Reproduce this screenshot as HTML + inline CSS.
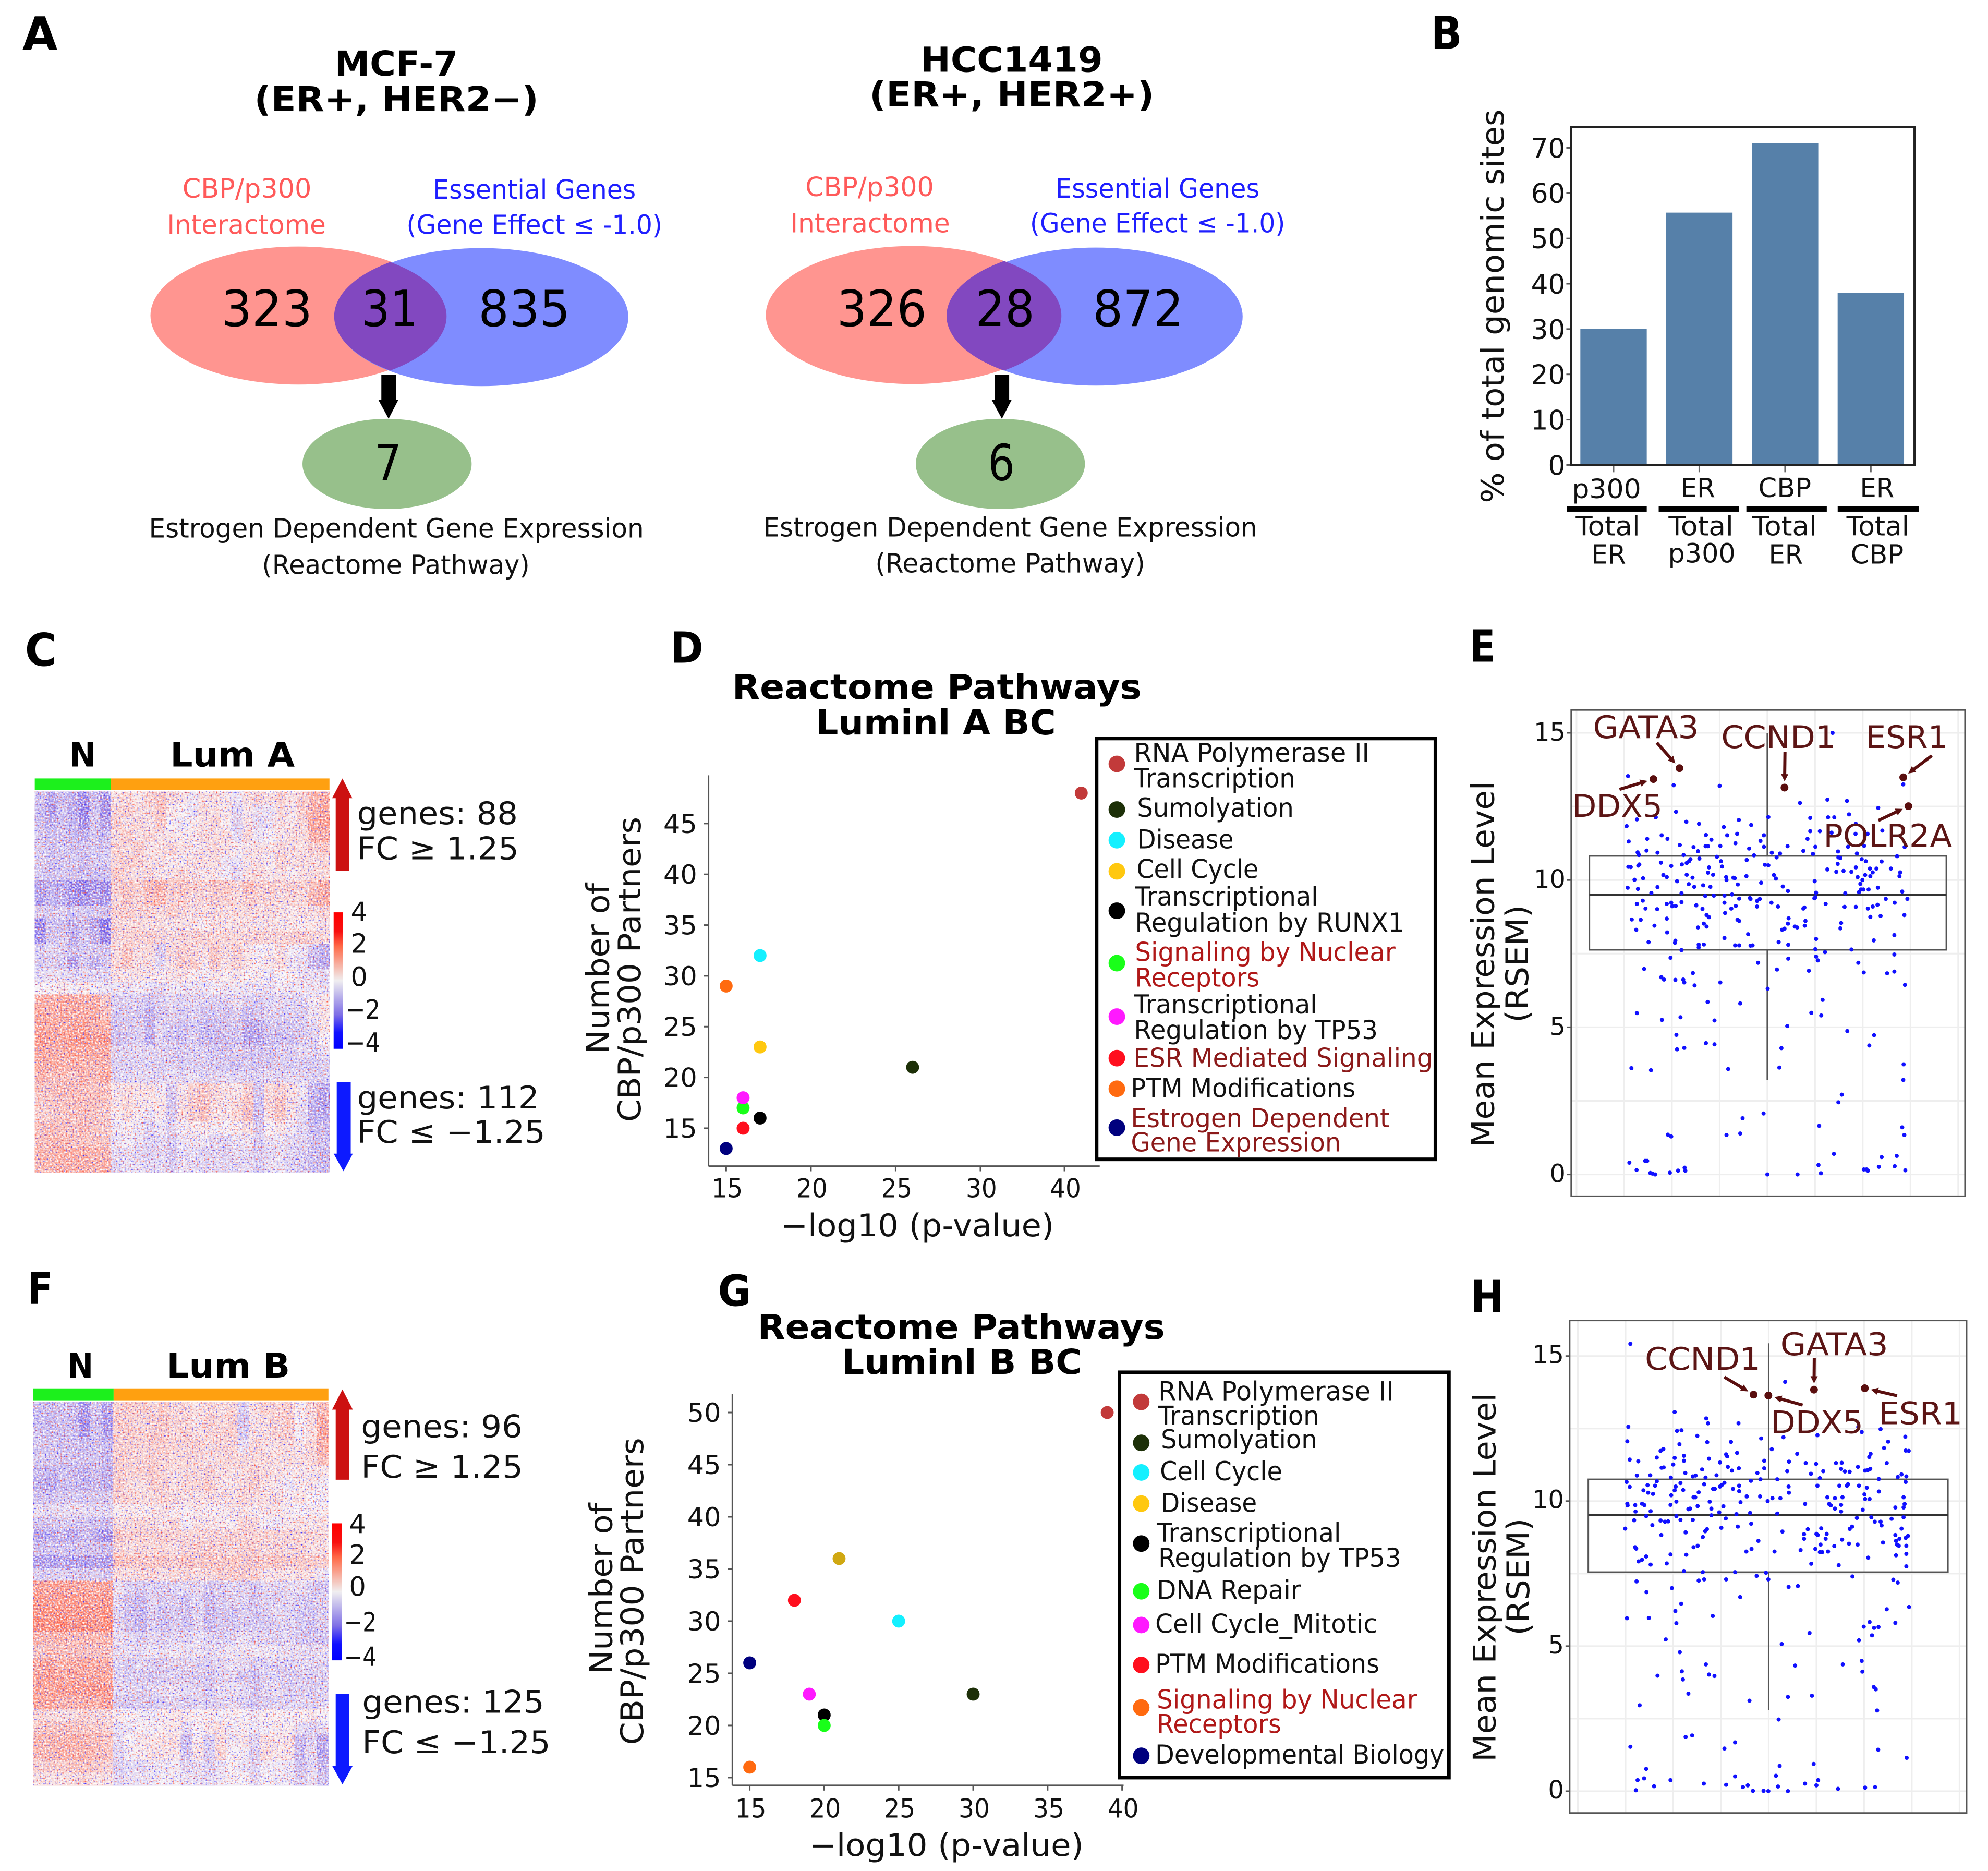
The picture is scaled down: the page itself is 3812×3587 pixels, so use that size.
<!DOCTYPE html>
<html lang="en">
<head>
<meta charset="utf-8">
<title>CBP/p300 interactome figure</title>
<style>
html,body{margin:0;padding:0;background:#fff;}
svg{display:block;font-family:"DejaVu Sans","Liberation Sans",sans-serif;}
text{fill:#111;}
.b{font-weight:bold;fill:#000;}
.leg{font-size:50px;}
.red{fill:#b01818;}
.dred{fill:#8c1a1a;}
.cbp{fill:#ff5a5a;font-size:51px;}
.ess{fill:#1f1fff;font-size:51px;}
.num{font-size:96px;fill:#000;}
.blk{font-size:51px;}
.axt{font-size:60px;}
.tck{font-size:51px;}
</style>
</head>
<body>
<svg id="fig" width="3812" height="3587" viewBox="0 0 3812 3587">
<defs>
<linearGradient id="cbarGrad" x1="0" y1="0" x2="0" y2="1">
<stop offset="0" stop-color="#ff0000"/><stop offset="0.14" stop-color="#f81010"/><stop offset="0.25" stop-color="#ff6a48"/><stop offset="0.5" stop-color="#f0eef0"/><stop offset="0.75" stop-color="#7e6ee6"/><stop offset="0.88" stop-color="#1010ff"/><stop offset="1" stop-color="#0000ff"/>
</linearGradient>
<filter id="grainBlue" x="0" y="0" width="100%" height="100%" color-interpolation-filters="sRGB">
<feTurbulence type="fractalNoise" baseFrequency="0.3" numOctaves="1" seed="3"/>
<feColorMatrix values="0 0 0 0 0.2  0 0 0 0 0.15  0 0 0 0 1  4 0 0 0 -2.35"/>
</filter>
<filter id="grainRed" x="0" y="0" width="100%" height="100%" color-interpolation-filters="sRGB">
<feTurbulence type="fractalNoise" baseFrequency="0.3" numOctaves="1" seed="11"/>
<feColorMatrix values="0 0 0 0 1  0 0 0 0 0.3  0 0 0 0 0.2  4 0 0 0 -2.35"/>
</filter>
<filter id="grainWhite" x="0" y="0" width="100%" height="100%" color-interpolation-filters="sRGB">
<feTurbulence type="fractalNoise" baseFrequency="0.3" numOctaves="1" seed="23"/>
<feColorMatrix values="0 0 0 0 1  0 0 0 0 1  0 0 0 0 1  3 0 0 0 -1.2"/>
</filter>
</defs>

<!-- PANEL A -->
<g transform="scale(.9949)">
<text class="b" x="43" y="96" font-size="89" textLength="68" lengthAdjust="spacingAndGlyphs">A</text>
<g>
<text class="b" x="764" y="146" font-size="66" text-anchor="middle" textLength="238" lengthAdjust="spacingAndGlyphs">MCF-7</text>
<text class="b" x="764" y="214" font-size="66" text-anchor="middle" textLength="548" lengthAdjust="spacingAndGlyphs">(ER+, HER2−)</text>
<text class="cbp" x="476" y="381" text-anchor="middle" textLength="249" lengthAdjust="spacingAndGlyphs">CBP/p300</text>
<text class="cbp" x="475" y="451" text-anchor="middle" textLength="306" lengthAdjust="spacingAndGlyphs">Interactome</text>
<text class="ess" x="1030" y="383" text-anchor="middle" textLength="391" lengthAdjust="spacingAndGlyphs">Essential Genes</text>
<text class="ess" x="1030" y="451" text-anchor="middle" textLength="493" lengthAdjust="spacingAndGlyphs">(Gene Effect ≤ -1.0)</text>
<ellipse cx="575" cy="608" rx="285" ry="133" fill="#ff9590"/>
<ellipse cx="928" cy="611" rx="283" ry="133" fill="#7f8cff"/>
<path d="M752 505 A285 133 0 0 1 752 714 A283 133 0 0 1 752 505 Z" fill="#8248c0"/>
<text class="num" x="427" y="628" textLength="175" lengthAdjust="spacingAndGlyphs">323</text>
<text class="num" x="697" y="628" textLength="109" lengthAdjust="spacingAndGlyphs">31</text>
<text class="num" x="922" y="628" textLength="177" lengthAdjust="spacingAndGlyphs">835</text>
<polygon points="735,722 763,722 763,770 768,770 749,807 729,770 735,770" fill="#000"/>
<ellipse cx="746" cy="894" rx="163" ry="87" fill="#97c08b"/>
<text class="num" x="722" y="925" textLength="52" lengthAdjust="spacingAndGlyphs">7</text>
<text class="blk" x="764" y="1036" text-anchor="middle" textLength="954" lengthAdjust="spacingAndGlyphs">Estrogen Dependent Gene Expression</text>
<text class="blk" x="763" y="1106" text-anchor="middle" textLength="516" lengthAdjust="spacingAndGlyphs">(Reactome Pathway)</text>
</g>
<g>
<text class="b" x="1950" y="138" font-size="66" text-anchor="middle" textLength="351" lengthAdjust="spacingAndGlyphs">HCC1419</text>
<text class="b" x="1950" y="205" font-size="66" text-anchor="middle" textLength="549" lengthAdjust="spacingAndGlyphs">(ER+, HER2+)</text>
<text class="cbp" x="1676" y="378" text-anchor="middle" textLength="248" lengthAdjust="spacingAndGlyphs">CBP/p300</text>
<text class="cbp" x="1677" y="448" text-anchor="middle" textLength="308" lengthAdjust="spacingAndGlyphs">Interactome</text>
<text class="ess" x="2231" y="381" text-anchor="middle" textLength="393" lengthAdjust="spacingAndGlyphs">Essential Genes</text>
<text class="ess" x="2231" y="448" text-anchor="middle" textLength="492" lengthAdjust="spacingAndGlyphs">(Gene Effect ≤ -1.0)</text>
<ellipse cx="1759" cy="607" rx="283" ry="133" fill="#ff9590"/>
<ellipse cx="2112" cy="610" rx="283" ry="133" fill="#7f8cff"/>
<path d="M1935 503 A283 133 0 0 1 1935 714 A283 133 0 0 1 1935 503 Z" fill="#8248c0"/>
<text class="num" x="1613" y="628" textLength="173" lengthAdjust="spacingAndGlyphs">326</text>
<text class="num" x="1880" y="628" textLength="114" lengthAdjust="spacingAndGlyphs">28</text>
<text class="num" x="2106" y="628" textLength="175" lengthAdjust="spacingAndGlyphs">872</text>
<polygon points="1917,722 1945,722 1945,770 1950,770 1931,807 1911,770 1917,770" fill="#000"/>
<ellipse cx="1928" cy="894" rx="163" ry="87" fill="#97c08b"/>
<text class="num" x="1904" y="925" textLength="52" lengthAdjust="spacingAndGlyphs">6</text>
<text class="blk" x="1947" y="1034" text-anchor="middle" textLength="952" lengthAdjust="spacingAndGlyphs">Estrogen Dependent Gene Expression</text>
<text class="blk" x="1947" y="1103" text-anchor="middle" textLength="520" lengthAdjust="spacingAndGlyphs">(Reactome Pathway)</text>
</g>
</g>

<!-- PANEL B -->
<g transform="translate(2700 0) scale(.9949) translate(-2700 0)">
<text class="b" x="2744" y="94" font-size="87" textLength="60" lengthAdjust="spacingAndGlyphs">B</text>
<g id="chartB"></g>
<rect x="3014" y="245" width="662" height="651" fill="none" stroke="#222" stroke-width="4"/>
<text class="axt" transform="rotate(-90 2884 590)" x="2884" y="590" text-anchor="middle" textLength="759" lengthAdjust="spacingAndGlyphs">% of total genomic sites</text>
<g>
<text class="tck" x="3016" y="960" textLength="133" lengthAdjust="spacingAndGlyphs">p300</text>
<text class="tck" x="3225" y="958" textLength="67" lengthAdjust="spacingAndGlyphs">ER</text>
<text class="tck" x="3375" y="958" textLength="102" lengthAdjust="spacingAndGlyphs">CBP</text>
<text class="tck" x="3571" y="958" textLength="66" lengthAdjust="spacingAndGlyphs">ER</text>
<rect x="3006" y="975" width="154" height="11" fill="#000"/>
<rect x="3183" y="975" width="155" height="11" fill="#000"/>
<rect x="3352" y="975" width="155" height="11" fill="#000"/>
<rect x="3528" y="975" width="156" height="11" fill="#000"/>
<text class="tck" x="3023" y="1032" textLength="124" lengthAdjust="spacingAndGlyphs">Total</text>
<text class="tck" x="3053" y="1086" textLength="67" lengthAdjust="spacingAndGlyphs">ER</text>
<text class="tck" x="3202" y="1032" textLength="125" lengthAdjust="spacingAndGlyphs">Total</text>
<text class="tck" x="3201" y="1084" textLength="130" lengthAdjust="spacingAndGlyphs">p300</text>
<text class="tck" x="3363" y="1032" textLength="125" lengthAdjust="spacingAndGlyphs">Total</text>
<text class="tck" x="3395" y="1086" textLength="66" lengthAdjust="spacingAndGlyphs">ER</text>
<text class="tck" x="3545" y="1032" textLength="121" lengthAdjust="spacingAndGlyphs">Total</text>
<text class="tck" x="3553" y="1086" textLength="102" lengthAdjust="spacingAndGlyphs">CBP</text>
</g>
</g>

<!-- PANEL C -->
<g transform="translate(0 1180) scale(.9949) translate(0 -1180)">
<text class="b" x="48" y="1277" font-size="87" textLength="61" lengthAdjust="spacingAndGlyphs">C</text>
<text class="b" x="134" y="1471" font-size="65" textLength="51" lengthAdjust="spacingAndGlyphs">N</text>
<text class="b" x="328" y="1471" font-size="65" textLength="240" lengthAdjust="spacingAndGlyphs">Lum A</text>
<rect x="67" y="1494" width="147" height="22" fill="#1cf01c"/>
<rect x="214" y="1494" width="421" height="22" fill="#ffa010"/>
<g id="heatC"></g>
<rect x="67" y="1519" width="568" height="734" filter="url(#grainWhite)"/>
<rect x="67" y="1519" width="568" height="734" filter="url(#grainBlue)"/>
<rect x="67" y="1519" width="568" height="734" filter="url(#grainRed)"/>
<polygon points="647,1672 673,1672 673,1532 679,1532 660,1494 640,1532 647,1532" fill="#cc1111"/>
<text class="tck" x="688" y="1582" style="font-size:60px" textLength="310" lengthAdjust="spacingAndGlyphs">genes: 88</text>
<text class="tck" x="688" y="1650" style="font-size:60px" textLength="312" lengthAdjust="spacingAndGlyphs">FC ≥ 1.25</text>
<rect x="643" y="1752" width="18" height="263" fill="url(#cbarGrad)"/>
<text class="tck" x="676" y="1769">4</text>
<text class="tck" x="676" y="1830">2</text>
<text class="tck" x="676" y="1894">0</text>
<text class="tck" x="666" y="1957" textLength="67" lengthAdjust="spacingAndGlyphs">−2</text>
<text class="tck" x="666" y="2021" textLength="67" lengthAdjust="spacingAndGlyphs">−4</text>
<polygon points="649,2079 676,2079 676,2217 680,2217 662,2251 643,2217 649,2217" fill="#0d1aff"/>
<text class="tck" x="688" y="2130" style="font-size:60px" textLength="351" lengthAdjust="spacingAndGlyphs">genes: 112</text>
<text class="tck" x="688" y="2196" style="font-size:60px" textLength="363" lengthAdjust="spacingAndGlyphs">FC ≤ −1.25</text>
</g>

<!-- PANEL D -->
<g transform="translate(1080 1180) scale(.9949) translate(-1080 -1180)">
<text class="b" x="1286" y="1271" font-size="82" textLength="64" lengthAdjust="spacingAndGlyphs">D</text>
<text class="b" x="1800" y="1341" font-size="66" text-anchor="middle" textLength="789" lengthAdjust="spacingAndGlyphs">Reactome Pathways</text>
<text class="b" x="1798" y="1409" font-size="66" text-anchor="middle" textLength="463" lengthAdjust="spacingAndGlyphs">Luminl A BC</text>
<g id="chartD"></g>
<text class="axt" transform="rotate(-90 1168 1860)" x="1168" y="1860" text-anchor="middle" textLength="329" lengthAdjust="spacingAndGlyphs">Number of</text>
<text class="axt" transform="rotate(-90 1229 1862)" x="1229" y="1862" text-anchor="middle" textLength="588" lengthAdjust="spacingAndGlyphs">CBP/p300 Partners</text>
<text class="axt" x="1499" y="2376" textLength="527" lengthAdjust="spacingAndGlyphs">−log10 (p-value)</text>
<g>
<rect x="2108" y="1417" width="653" height="811" fill="#fff" stroke="#000" stroke-width="7"/>
<circle cx="2147" cy="1466" r="16" fill="#c23a3a"/>
<text class="leg" x="2180" y="1462" textLength="454" lengthAdjust="spacingAndGlyphs">RNA Polymerase II</text>
<text class="leg" x="2180" y="1511" textLength="311" lengthAdjust="spacingAndGlyphs">Transcription</text>
<circle cx="2147" cy="1554" r="16" fill="#1d3008"/>
<text class="leg" x="2186" y="1568" textLength="302" lengthAdjust="spacingAndGlyphs">Sumolyation</text>
<circle cx="2147" cy="1613" r="16" fill="#14f0ff"/>
<text class="leg" x="2186" y="1629" textLength="186" lengthAdjust="spacingAndGlyphs">Disease</text>
<circle cx="2147" cy="1673" r="16" fill="#ffc80f"/>
<text class="leg" x="2185" y="1686" textLength="235" lengthAdjust="spacingAndGlyphs">Cell Cycle</text>
<circle cx="2147" cy="1749" r="16" fill="#000"/>
<text class="leg" x="2182" y="1739" textLength="353" lengthAdjust="spacingAndGlyphs">Transcriptional</text>
<text class="leg" x="2182" y="1789" textLength="519" lengthAdjust="spacingAndGlyphs">Regulation by RUNX1</text>
<circle cx="2147" cy="1850" r="16" fill="#19ff19"/>
<text class="leg red" x="2182" y="1846" textLength="502" lengthAdjust="spacingAndGlyphs">Signaling by Nuclear</text>
<text class="leg red" x="2182" y="1895" textLength="240" lengthAdjust="spacingAndGlyphs">Receptors</text>
<circle cx="2147" cy="1953" r="16" fill="#ff19ff"/>
<text class="leg" x="2180" y="1947" textLength="353" lengthAdjust="spacingAndGlyphs">Transcriptional</text>
<text class="leg" x="2180" y="1996" textLength="470" lengthAdjust="spacingAndGlyphs">Regulation by TP53</text>
<circle cx="2147" cy="2033" r="16" fill="#ff0f1e"/>
<text class="leg dred" x="2179" y="2050" textLength="577" lengthAdjust="spacingAndGlyphs">ESR Mediated Signaling</text>
<circle cx="2147" cy="2092" r="16" fill="#ff6a10"/>
<text class="leg" x="2174" y="2108" textLength="433" lengthAdjust="spacingAndGlyphs">PTM Modifications</text>
<circle cx="2147" cy="2167" r="16" fill="#00007e"/>
<text class="leg dred" x="2174" y="2166" textLength="499" lengthAdjust="spacingAndGlyphs">Estrogen Dependent</text>
<text class="leg dred" x="2174" y="2213" textLength="405" lengthAdjust="spacingAndGlyphs">Gene Expression</text>
</g>
</g>

<!-- PANEL E -->
<g transform="translate(2780 1200) scale(.9949) translate(-2780 -1200)">
<text class="b" x="2818" y="1269" font-size="85" textLength="50" lengthAdjust="spacingAndGlyphs">E</text>
<g id="chartE"></g>
<text class="axt" transform="rotate(-90 2865 1852)" x="2865" y="1852" text-anchor="middle" textLength="705" lengthAdjust="spacingAndGlyphs">Mean Expression Level</text>
<text class="axt" transform="rotate(-90 2931 1851)" x="2931" y="1851" text-anchor="middle" textLength="227" lengthAdjust="spacingAndGlyphs">(RSEM)</text>
</g>

<!-- PANEL F -->
<g transform="translate(0 2420) scale(.9949) translate(0 -2420)">
<text class="b" x="53" y="2500" font-size="85" textLength="49" lengthAdjust="spacingAndGlyphs">F</text>
<text class="b" x="130" y="2642" font-size="65" textLength="50" lengthAdjust="spacingAndGlyphs">N</text>
<text class="b" x="321" y="2642" font-size="65" textLength="238" lengthAdjust="spacingAndGlyphs">Lum B</text>
<rect x="64" y="2663" width="155" height="23" fill="#1cf01c"/>
<rect x="219" y="2663" width="414" height="23" fill="#ffa010"/>
<g id="heatF"></g>
<rect x="64" y="2689" width="569" height="739" filter="url(#grainWhite)"/>
<rect x="64" y="2689" width="569" height="739" filter="url(#grainBlue)"/>
<rect x="64" y="2689" width="569" height="739" filter="url(#grainRed)"/>
<polygon points="647,2839 673,2839 673,2704 680,2704 660,2665 640,2704 647,2704" fill="#cc1111"/>
<text class="tck" x="696" y="2757" style="font-size:60px" textLength="311" lengthAdjust="spacingAndGlyphs">genes: 96</text>
<text class="tck" x="696" y="2835" style="font-size:60px" textLength="312" lengthAdjust="spacingAndGlyphs">FC ≥ 1.25</text>
<rect x="640" y="2923" width="19" height="264" fill="url(#cbarGrad)"/>
<text class="tck" x="673" y="2942">4</text>
<text class="tck" x="673" y="3001">2</text>
<text class="tck" x="673" y="3063">0</text>
<text class="tck" x="663" y="3131" textLength="63" lengthAdjust="spacingAndGlyphs">−2</text>
<text class="tck" x="663" y="3198" textLength="63" lengthAdjust="spacingAndGlyphs">−4</text>
<polygon points="647,3252 673,3252 673,3390 680,3390 660,3426 640,3390 647,3390" fill="#0d1aff"/>
<text class="tck" x="698" y="3288" style="font-size:60px" textLength="351" lengthAdjust="spacingAndGlyphs">genes: 125</text>
<text class="tck" x="698" y="3366" style="font-size:60px" textLength="363" lengthAdjust="spacingAndGlyphs">FC ≤ −1.25</text>
</g>

<!-- PANEL G -->
<g transform="translate(1080 2420) scale(.9949) translate(-1080 -2420)">
<text class="b" x="1378" y="2504" font-size="82" textLength="64" lengthAdjust="spacingAndGlyphs">G</text>
<text class="b" x="1847" y="2568" font-size="66" text-anchor="middle" textLength="785" lengthAdjust="spacingAndGlyphs">Reactome Pathways</text>
<text class="b" x="1848" y="2635" font-size="66" text-anchor="middle" textLength="463" lengthAdjust="spacingAndGlyphs">Luminl B BC</text>
<g id="chartG"></g>
<text class="axt" transform="rotate(-90 1174 3049)" x="1174" y="3049" text-anchor="middle" textLength="330" lengthAdjust="spacingAndGlyphs">Number of</text>
<text class="axt" transform="rotate(-90 1234 3054)" x="1234" y="3054" text-anchor="middle" textLength="592" lengthAdjust="spacingAndGlyphs">CBP/p300 Partners</text>
<text class="axt" x="1554" y="3564" textLength="529" lengthAdjust="spacingAndGlyphs">−log10 (p-value)</text>
<g>
<rect x="2152" y="2632" width="635" height="781" fill="#fff" stroke="#000" stroke-width="7"/>
<circle cx="2194" cy="2689" r="16" fill="#c23a3a"/>
<text class="leg" x="2227" y="2686" textLength="454" lengthAdjust="spacingAndGlyphs">RNA Polymerase II</text>
<text class="leg" x="2227" y="2733" textLength="310" lengthAdjust="spacingAndGlyphs">Transcription</text>
<circle cx="2194" cy="2768" r="16" fill="#1d3008"/>
<text class="leg" x="2232" y="2779" textLength="301" lengthAdjust="spacingAndGlyphs">Sumolyation</text>
<circle cx="2194" cy="2825" r="16" fill="#14f0ff"/>
<text class="leg" x="2230" y="2840" textLength="236" lengthAdjust="spacingAndGlyphs">Cell Cycle</text>
<circle cx="2194" cy="2885" r="16" fill="#ffc80f"/>
<text class="leg" x="2232" y="2901" textLength="185" lengthAdjust="spacingAndGlyphs">Disease</text>
<circle cx="2194" cy="2962" r="16" fill="#000"/>
<text class="leg" x="2224" y="2959" textLength="355" lengthAdjust="spacingAndGlyphs">Transcriptional</text>
<text class="leg" x="2227" y="3007" textLength="468" lengthAdjust="spacingAndGlyphs">Regulation by TP53</text>
<circle cx="2194" cy="3054" r="16" fill="#19ff19"/>
<text class="leg" x="2224" y="3069" textLength="278" lengthAdjust="spacingAndGlyphs">DNA Repair</text>
<circle cx="2194" cy="3119" r="16" fill="#ff19ff"/>
<text class="leg" x="2221" y="3134" textLength="428" lengthAdjust="spacingAndGlyphs">Cell Cycle_Mitotic</text>
<circle cx="2194" cy="3196" r="16" fill="#ff0f1e"/>
<text class="leg" x="2221" y="3211" textLength="432" lengthAdjust="spacingAndGlyphs">PTM Modifications</text>
<circle cx="2194" cy="3278" r="16" fill="#ff6a10"/>
<text class="leg red" x="2224" y="3280" textLength="502" lengthAdjust="spacingAndGlyphs">Signaling by Nuclear</text>
<text class="leg red" x="2224" y="3327" textLength="240" lengthAdjust="spacingAndGlyphs">Receptors</text>
<circle cx="2194" cy="3371" r="16" fill="#00007e"/>
<text class="leg" x="2221" y="3386" textLength="557" lengthAdjust="spacingAndGlyphs">Developmental Biology</text>
</g>
</g>

<!-- PANEL H -->
<g transform="translate(2780 2450) scale(.9949) translate(-2780 -2450)">
<text class="b" x="2820" y="2516" font-size="85" textLength="64" lengthAdjust="spacingAndGlyphs">H</text>
<g id="chartH"></g>
<text class="axt" transform="rotate(-90 2868 3027)" x="2868" y="3027" text-anchor="middle" textLength="711" lengthAdjust="spacingAndGlyphs">Mean Expression Level</text>
<text class="axt" transform="rotate(-90 2933 3026)" x="2933" y="3026" text-anchor="middle" textLength="226" lengthAdjust="spacingAndGlyphs">(RSEM)</text>
</g>
</svg>

<script>
// ---------- Panel B data ----------
const bCategories = ['p300/ER', 'ER/p300', 'CBP/ER', 'ER/CBP'];
const bValues = [30, 55.7, 71, 38];
const bTicks = [0, 10, 20, 30, 40, 50, 60, 70];

// ---------- Panel D data ----------
const dPathways = ['RNA Polymerase II Transcription', 'Sumolyation', 'Disease', 'Cell Cycle', 'Transcriptional Regulation by RUNX1', 'Signaling by Nuclear Receptors', 'Transcriptional Regulation by TP53', 'ESR Mediated Signaling', 'PTM Modifications', 'Estrogen Dependent Gene Expression'];
const dLogP = [42, 26, 17, 17, 17, 16, 16, 16, 15, 15];
const dPartners = [48, 21, 32, 23, 16, 17, 18, 15, 29, 13];
const dXTicks = [15, 20, 25, 30, 40];
const dYTicks = [15, 20, 25, 30, 35, 40, 45];
const dColors = ['#c23a3a', '#1d3008', '#14f0ff', '#ffc80f', '#000000', '#19ff19', '#ff19ff', '#ff0f1e', '#ff6a10', '#00007e'];

// ---------- Panel G data ----------
const gPathways = ['RNA Polymerase II Transcription', 'Sumolyation', 'Cell Cycle', 'Disease', 'Transcriptional Regulation by TP53', 'DNA Repair', 'Cell Cycle_Mitotic', 'PTM Modifications', 'Signaling by Nuclear Receptors', 'Developmental Biology'];
const gLogP = [39, 30, 25, 21, 20, 20, 19, 18, 15, 15];
const gPartners = [50, 23, 30, 36, 21, 20, 23, 32, 16, 26];
const gXTicks = [15, 20, 25, 30, 35, 40];
const gYTicks = [15, 20, 25, 30, 35, 40, 45, 50];
const gColors = ['#c23a3a', '#1d3008', '#14f0ff', '#d0a812', '#000000', '#19ff19', '#ff19ff', '#ff0f1e', '#ff6a10', '#00007e'];

// ---------- Heatmap colour scale ----------
const heatStops = [-4, -2, 0, 2, 4];
const heatStopColors = [[0,0,255],[128,108,232],[244,238,242],[255,112,84],[255,0,0]];

// Heatmap C: z-score x10, rows = gene blocks, first 7 columns = normal, then 20 luminal A
const heatCRows = [
[-8,-14,-9,-12,-18,-9,-16,3,5,2,6,8,4,3,-2,3,4,2,-3,4,5,3,6,3,6,11,13],
[-10,-16,-8,-13,-20,-8,-18,5,6,3,4,9,2,0,-3,4,3,2,-5,2,-3,-2,4,2,7,12,14],
[-9,-12,-9,-11,-18,-7,-14,6,3,5,3,7,0,-2,1,3,5,1,-6,3,-4,-3,3,2,5,14,15],
[-7,-9,-8,-10,-12,-8,-10,4,7,3,5,3,2,1,2,4,3,4,-4,5,-2,0,2,4,4,12,13],
[-6,-8,-7,-9,-8,-7,-8,6,4,7,2,3,5,3,2,3,5,3,1,2,3,2,5,3,3,6,7],
[-6,-8,-8,-7,-9,-7,-7,5,6,6,3,3,1,2,3,3,4,-2,-3,2,3,1,6,3,4,3,5],
[-7,-8,-8,-8,-9,-9,-9,7,5,3,4,2,3,5,3,2,2,-1,-4,3,4,2,3,1,3,4,4],
[-14,-12,-13,-18,-20,-16,-18,6,8,6,10,12,6,8,6,5,8,7,5,9,6,7,5,6,5,9,13],
[-15,-11,-12,-17,-18,-15,-17,5,8,5,9,10,5,6,4,5,6,6,4,7,5,5,4,5,4,10,13],
[-6,-7,-6,-8,-7,-7,-8,6,6,5,5,4,7,5,3,3,4,3,4,4,3,4,3,2,3,3,5],
[-20,-8,-8,-12,-8,-14,-22,5,4,4,3,4,2,3,3,1,3,2,3,3,2,3,2,2,1,2,3],
[-18,-7,-6,-12,-7,-12,-20,5,5,6,6,5,4,5,5,6,5,5,4,5,6,5,5,6,7,5,4],
[-6,-5,-6,-9,-7,-7,-8,4,8,3,4,-6,4,6,5,3,7,4,6,2,-1,1,3,-1,-2,-8,-12],
[-7,-6,-7,-14,-7,-12,-7,5,8,3,3,-5,3,7,7,2,8,3,6,3,0,2,4,-2,-3,-10,-13],
[-4,-3,-3,-5,-4,-5,-5,3,2,3,2,1,2,3,1,-1,2,1,2,0,1,-2,0,1,-3,-3,-4],
[0,0,2,-1,2,-1,-2,-2,-3,-1,-3,-4,-2,-2,-2,-3,-1,-2,-2,-3,-2,-3,-1,-2,-2,-3,-3],
[12,12,13,13,13,12,8,-6,-5,-5,-8,-6,-4,-5,-4,-5,-5,-5,-3,-6,-6,-5,-4,-5,-5,-1,2],
[14,13,12,13,13,13,9,-7,-6,-7,-12,-7,-5,-7,-5,-8,-7,-8,-6,-9,-8,-5,-6,-5,-6,-2,3],
[15,14,13,14,15,13,12,-8,-7,-6,-11,-5,-7,-8,-6,-10,-9,-8,-7,-13,-12,-7,-8,-8,-6,-4,2],
[16,14,14,17,17,15,16,-9,-8,-6,-12,-5,-8,-9,-6,-10,-10,-9,-8,-14,-13,-9,-9,-9,-6,-5,0],
[14,13,13,14,14,13,13,-5,-5,-4,-5,-5,-6,-6,-5,-6,-7,-7,-6,-8,-8,-7,-5,-6,-4,-5,-3],
[13,13,12,12,12,11,12,-6,-6,-5,-5,-6,-5,-7,-6,-6,-7,-7,-8,-7,-8,-7,-6,-6,-6,-7,-6],
[12,9,10,8,12,10,14,-5,-4,-4,-4,-5,-3,-5,-3,-5,-5,-4,-5,-5,-6,-4,-5,-4,-5,-6,-6],
[8,9,10,10,10,9,9,2,4,3,3,-1,-6,2,6,8,5,3,2,6,-8,4,6,3,-2,-10,-14],
[7,8,9,10,9,9,8,3,5,2,2,2,-8,3,7,9,4,2,4,8,-8,5,8,3,-3,-12,-15],
[6,7,8,9,9,8,7,1,4,1,-3,1,-7,3,6,9,3,2,5,9,-9,3,8,2,-4,-12,-14],
[9,10,9,8,10,8,7,-2,1,-2,-5,-2,-5,-1,2,2,-1,0,1,4,-7,0,2,-2,-5,-10,-10],
[9,11,10,9,9,9,8,-3,-1,-3,-5,-4,-6,-3,-2,-2,-4,-5,-2,-2,-6,-3,-2,-5,-5,-8,-9],
[11,11,12,12,13,12,11,-4,-3,-4,-6,-4,-7,-3,-4,-5,-5,-6,-4,-4,-7,-4,-3,-5,-6,-9,-10],
[11,11,12,12,12,12,12,-5,-3,-3,-5,-4,-7,-3,-4,-5,-4,-5,-4,-4,-6,-3,-3,-5,-6,-9,-9]
];

// Heatmap F: z-score x10, first 7 columns = normal, then 19 luminal B
const heatFRows = [
[-9,-10,-8,-9,-16,-8,-14,6,7,6,5,7,4,5,3,5,4,5,-6,3,5,5,6,1,5,10],
[-9,-11,-8,-10,-18,-9,-16,7,6,5,6,8,5,5,2,6,4,6,-8,2,4,5,7,0,4,13],
[-8,-9,-9,-9,-16,-8,-15,6,7,6,7,6,5,6,3,5,5,6,-7,3,3,6,6,-1,3,14],
[-8,-8,-9,-8,-10,-8,-10,6,6,5,6,7,5,5,6,4,5,5,-3,5,3,3,4,2,5,12],
[-7,-8,-8,-8,-9,-8,-11,7,5,5,6,5,4,5,5,3,4,5,4,4,4,3,4,3,4,10],
[-10,-12,-9,-10,-12,-9,-13,6,5,6,7,5,3,4,5,6,3,3,3,6,4,3,2,2,2,2],
[-12,-13,-10,-10,-11,-10,-12,7,4,3,6,6,3,5,5,7,2,2,5,7,3,2,-2,1,2,-1],
[-8,-8,-7,-7,-8,-7,-7,6,5,4,4,5,4,3,3,4,3,3,5,4,3,4,1,3,0,-1],
[-3,-4,-4,-3,-4,-4,-5,1,2,1,2,3,1,1,2,1,1,2,3,1,2,2,1,0,1,1],
[-8,-8,-7,-7,-8,-9,-10,4,4,5,4,2,5,-1,3,2,2,1,5,5,-1,-2,2,3,2,3],
[-14,-12,-10,-13,-9,-13,-18,8,6,6,5,6,5,5,5,5,5,6,6,5,5,5,5,5,5,4],
[-9,-8,-8,-9,-8,-8,-10,6,4,5,4,5,3,5,6,7,5,4,6,7,4,5,4,5,3,3],
[-15,-15,-13,-15,-15,-14,-15,9,8,7,7,8,6,8,7,8,7,8,7,8,7,8,7,7,7,7],
[-6,-6,-5,-6,-7,-6,-8,4,3,4,5,3,4,5,4,4,6,6,7,6,2,3,2,4,3,-2],
[15,15,15,14,15,14,15,-3,-6,-7,-5,-6,-5,-5,-4,-7,-6,-4,-5,-7,-4,-5,-4,-3,-6,-8],
[17,16,16,16,17,16,17,-4,-8,-10,-5,-7,-5,-8,-5,-9,-7,-6,-5,-8,-5,-6,-4,-6,-7,-5],
[18,18,18,17,17,17,18,-5,-9,-11,-6,-9,-7,-9,-5,-10,-8,-8,-6,-8,-6,-4,-5,-7,-8,-5],
[19,18,20,17,19,17,19,-4,-8,-11,-6,-9,-6,-8,-5,-10,-7,-8,-6,-7,-7,-5,-5,-7,-9,-6],
[11,10,11,10,11,11,12,-3,-4,-6,-4,-5,-4,-4,-3,-5,-6,-5,-3,-5,-4,-6,-4,-7,-8,-8],
[8,9,9,9,9,9,8,-4,-3,-4,-2,-3,-2,-3,-2,-4,-3,-2,-2,-2,-2,-2,-3,-3,-4,-3],
[13,15,12,13,14,13,13,-5,-7,-4,-6,-6,-5,-5,-6,-6,-4,-3,-4,-6,-5,-5,-6,-4,-5,-5],
[14,16,13,15,14,14,14,-5,-7,-6,-8,-6,-5,-6,-6,-7,-5,-4,-7,-9,-5,-5,-6,-6,-6,-6],
[15,14,16,16,16,17,16,-4,-5,-6,-5,-3,-2,-4,-5,-7,-3,-3,-4,-7,-4,-3,-7,-5,-6,-5],
[15,14,12,12,13,12,16,-6,-7,-6,-7,-6,-5,-7,-5,-6,-5,-4,-6,-8,-6,-5,-5,-5,-5,-4],
[5,4,3,4,6,4,4,1,0,-1,-2,1,2,2,0,1,-1,1,0,-2,1,0,-1,1,2,0],
[7,8,8,8,8,7,6,-3,-2,0,-1,1,2,-4,0,2,3,-2,1,-2,-1,1,1,-4,-6,-4],
[11,11,11,12,11,10,9,-4,0,2,2,3,3,-10,1,-6,4,-2,2,-5,3,2,3,-10,-5,-13],
[10,10,12,11,11,10,9,-5,-1,1,3,2,2,-8,2,-7,5,0,-1,-6,4,2,2,-10,-4,-14],
[6,7,7,8,9,7,6,-6,-4,-4,-2,-2,-1,-5,-3,-6,-3,0,-3,-5,-1,-1,-2,-9,-4,-11],
[3,3,3,4,5,3,3,-5,-3,-3,-2,-1,-1,-3,-3,-4,-2,-1,0,-4,-1,-2,-2,-6,-3,-8]
];

// ---------- Panel E data: [jitter, RSEM] ----------
const ePoints = [
[-406,13.53],[-273,13.22],[-139,13.2],[396,13.25],[190,15],[95,12.62],[175,12.73],[232,12.69],[-266,12.32],[323,12.45],[238,12.23],[-410,11.83],[-380,12.06],[-325,12.13],[-236,11.98],[-199,11.91],[-127,11.8],[-83,12.04],[-47,11.87],[3,12.14],[125,12.11],[177,12.13],[195,12.13],[258,11.91],[335,11.68],
[-404,11.31],[-350,11.4],[-308,11.52],[-291,11.4],[-179,11.53],[-163,11.37],[-117,11.52],[-88,11.57],[-10,11.52],[-20,11.33],[125,11.66],[117,11.4],[153,11.66],[187,11.61],[257,11.57],[292,11.57],
[-352,11],[-255,11.19],[-215,11.12],[-202,10.98],[-180,11.15],[-173,11.15],[-137,11.16],[-93,11.25],[-53,11.07],[-10,11.13],[59,11.15],[140,11.13],[105,10.99],[235,11.13],[282,11.16],[400,11.12],[-378,10.94],[-374,10.85],[-320,10.93],[-244,10.85],[13,10.93],[37,10.9],[-39,10.84],[133,10.89],[206,10.97],[261,10.9],[207,10.77],[378,10.81],[-147,10.79],
[-405,10.45],[-398,10.44],[-376,10.49],[-373,10.53],[-310,10.59],[-280,10.48],[-249,10.53],[-235,10.58],[-228,10.64],[-224,10.71],[-198,10.73],[-135,10.64],[-132,10.46],[-170,10.43],[-173,10.25],[-158,10.18],[-60,10.68],[-7,10.52],[3,10.5],[27,10.77],[175,10.36],[205,10.55],[213,10.75],[201,10.28],[222,10.31],[245,10.28],[258,10.43],[275,10.71],[287,10.64],[299,10.39],[307,10.26],[318,10.39],[333,10.63],[360,10.39],[387,10.26],[385,10.13],
[-387,10.01],[-362,10.06],[-303,10.17],[-293,10.1],[-263,9.96],[-235,10.18],[-218,10.08],[-120,10.1],[-119,10],[-99,10.08],[-95,10.06],[-61,10.13],[19,10.17],[25,10.05],[138,9.96],[263,10.1],[277,10],[285,10.17],[300,10.13],
[-407,9.74],[-377,9.7],[-320,9.76],[-229,9.86],[-213,9.77],[-187,9.82],[-166,9.77],[-86,9.85],[-18,9.91],[45,9.78],[60,9.63],[271,9.87],[273,9.68],[280,9.68],[295,9.68],[322,9.74],[393,9.61],[142,9.57],[-338,9.56],[-250,9.55],[-181,9.46],[-156,9.47],[-125,9.47],[-103,9.51],[227,9.55],[267,9.59],
[-363,9.3],[-280,9.23],[-250,9.25],[-51,9.39],[-49,9.36],[-30,9.29],[-22,9.36],[12,9.23],[-82,9.37],[137,9.38],[140,9.42],[408,9.36],[371,9.23],[345,9.36],[-125,9.23],
[-380,9.19],[-355,9.03],[-321,9.01],[-293,9.19],[-277,9.11],[-267,9.12],[-207,9.14],[-189,9.02],[-123,8.88],[-105,9.03],[-92,9.12],[-30,9.1],[31,9.1],[105,9.03],[108,9.07],[170,9.19],[225,9.09],[258,9.09],[293,9.03],[307,9.1],[321,9.16],
[-395,8.66],[-369,8.65],[-293,8.69],[-177,8.81],[-170,8.74],[-87,8.65],[-82,8.61],[62,8.7],[111,8.61],[330,8.78],[300,8.75],[399,8.81],
[-382,8.31],[-329,8.45],[-292,8.22],[-202,8.39],[-185,8.52],[-177,8.42],[43,8.31],[50,8.35],[60,8.52],[80,8.42],[87,8.39],[109,8.45],[213,8.36],[215,8.54],
[-346,7.89],[-269,7.87],[-268,7.94],[-200,7.81],[-185,7.81],[-125,8.03],[-94,7.78],[-82,7.78],[-56,8.16],[-49,7.77],[-43,7.78],[33,7.89],[61,7.8],[142,8],[310,7.95],[370,8.13],[-200,7.71],
[-250,7.62],[140,7.65],[168,7.55],[245,7.64],
[-282,7.36],[61,7.33],[142,7.4],[147,7.27],[370,7.47],[-27,7.19],[265,7.19],[-359,6.98],[28,6.96],[121,6.92],[281,6.86],[-217,6.84],[349,6.83],[370,6.89],
[-309,6.7],[-301,6.62],[-268,6.61],[-245,6.62],[-242,6.52],[-212,6.42],[-137,6.52],[401,6.44],[1,6.31],[161,5.93],[-174,5.86],[-79,5.81],[-380,5.48],[128,5.49],[157,5.4],[-307,5.25],[-253,5.34],[-154,5.23],[58,5.04],[233,4.87],[-265,4.74],[311,4.73],[-179,4.46],[-154,4.42],[297,4.38],[-263,4.25],[-242,4.3],[41,4.29],
[-396,3.61],[-339,3.54],[-114,3.58],[35,3.63],[397,3.74],[396,3.21],[217,2.71],[207,2.45],[-11,2.07],[-72,1.91],[151,1.65],[393,1.6],[-290,1.35],[-280,1.29],[-119,1.34],[-79,1.39],[399,1.34],[194,0.7],
[-402,0.4],[-356,0.46],[-350,0.46],[333,0.59],[377,0.63],[149,0.32],[325,0.26],[371,0.28],[-381,0.15],[-241,0.23],[-239,0.13],[-260,0.13],[-284,0.06],[281,0.17],[289,0.17],[293,0.13],[402,0.14],[-341,0.05],[-335,0.03],[-327,0],[0,0],[88,0],[156,0.04]
];
const eGenes = ['GATA3', 'DDX5', 'CCND1', 'ESR1', 'POLR2A'];
const eGeneJitter = [-256, -332, 50, 396, 411];
const eGeneExpr = [13.8, 13.43, 13.14, 13.49, 12.51];
const eBoxStats = [3.2, 7.63, 9.5, 10.82, 15];
const eYTicks = [0, 5, 10, 15];

// ---------- Panel H data: [jitter, RSEM] ----------
const hPoints = [
[-403,15.42],[-274,13.07],[-409,12.56],[-182,12.85],[-177,12.68],[-88,12.68],[48,14.11],[-267,12.42],[-254,12.44],[261,12.55],[326,12.48],[-208,12.25],[-412,12.06],[-260,11.96],[-179,12.03],[-110,12.04],[-22,12.16],[43,12.2],[142,12.27],[271,12.38],[398,12.22],[348,12.05],[9,11.79],[336,11.83],[-307,11.79],[-315,11.73],[-174,11.46],[-247,11.56],[-274,11.49],[-326,11.5],[-124,11.61],[-121,11.54],[-92,11.66],[83,11.63],[297,11.63],[293,11.52],[399,11.74],[408,11.73],
[-405,11.43],[-380,11.37],[-247,11.39],[-278,11.26],[-312,11.15],[-306,11.16],[-194,11.09],[-142,11.33],[-119,11.18],[-107,11.05],[-87,11.13],[-13,11.39],[-13,11.13],[-33,10.97],[59,11.36],[54,11.03],[108,11.31],[138,11.28],[260,11.18],[196,11.31],[213,11.32],[211,11.11],[222,11.02],[236,11.01],[281,11.05],[289,11.07],[296,11.11],[344,11.31],[123,10.94],[159,11.03],
[-384,10.88],[-345,10.89],[-285,10.81],[-243,10.97],[-221,10.85],[-213,10.88],[-184,10.81],[-152,10.89],[-24,10.75],[25,10.75],[149,10.79],[321,10.76],[376,10.83],[387,10.92],[401,10.85],[399,10.66],[-414,10.66],[-405,10.49],[-326,10.68],[-331,10.53],[-353,10.55],[-365,10.37],[-351,10.29],[-337,10.25],[-284,10.2],[-271,10.5],[-274,10.37],[-257,10.62],[-249,10.38],[-188,10.58],[-162,10.42],[-157,10.42],[-142,10.5],[-137,10.55],[-129,10.63],[-104,10.42],[-86,10.53],[-86,10.34],[-52,10.7],[142,10.53],[58,10.5],[59,10.29],[206,10.53],[228,10.53],[231,10.58],[263,10.53],[286,10.46],[321,10.33],
[-214,10.13],[-204,10.3],[-219,10.13],[-64,10.16],[-25,10.16],[-3,10],[11,10.1],[34,10.1],[171,10.13],[193,10.1],[215,10.13],[279,10.23],[281,10.07],[294,10.07],[393,10.13],
[-412,9.91],[-411,9.85],[-389,9.86],[-369,9.91],[-362,9.86],[-286,9.87],[-269,9.98],[-207,9.83],[-172,9.98],[-132,9.82],[-167,9.74],[-82,9.96],[106,9.9],[176,9.9],[181,9.85],[193,9.74],[211,9.87],[274,9.7],[369,9.78],[396,9.9],[393,9.78],[-234,9.72],[-229,9.74],[-388,9.64],[-344,9.65],[-144,9.61],[-54,9.59],[25,9.57],[211,9.64],
[-357,9.48],[-269,9.48],[-167,9.51],[-94,9.55],[-392,9.34],[-315,9.33],[-302,9.29],[-293,9.3],[-257,9.35],[-221,9.35],[-125,9.4],[257,9.42],[299,9.44],[309,9.29],[326,9.29],[358,9.39],[393,9.44],
[-418,9.05],[-339,9.17],[-242,8.92],[-313,8.83],[-180,9.03],[-185,8.96],[-138,9.08],[-90,9.12],[-51,9.22],[40,8.95],[329,9.16],[243,9.12],[236,9.04],[387,9.05],[369,8.83],[103,8.86],[114,9.03],[153,9.06],[139,8.87],[143,8.83],[169,8.87],[406,8.8],
[-192,8.76],[-207,8.46],[-219,8.41],[-30,8.63],[-50,8.35],[-65,8.26],[17,8.26],[103,8.7],[93,8.31],[166,8.7],[151,8.5],[136,8.35],[149,8.24],[156,8.24],[173,8.26],[191,8.45],[214,8.67],[234,8.53],[259,8.5],[333,8.57],[371,8.63],[381,8.7],[399,8.73],[374,8.5],[379,8.46],[401,8.46],
[-389,8.41],[-386,8.36],[-379,7.92],[-357,8.09],[-369,7.98],[-344,7.81],[-297,7.85],[-286,8.16],[-240,8.15],[401,8.18],[371,8.13],[290,8.05],[124,7.84],[204,7.79],[401,7.75],
[-247,7.59],[-192,7.55],[-98,7.55],[-8,7.53],[-35,7.42],[244,7.4],[-204,7.26],[-188,7.3],[-124,7.3],[-385,7.23],[-1,7.3],[363,7.29],[376,7.19],
[-356,6.86],[-282,7],[58,7.04],[85,7.07],[-255,6.46],[-83,6.69],[-272,6.21],[344,6.27],[409,6.35],[-349,5.97],[-163,6.04],[-413,5.96],[-269,5.79],[369,5.8],[294,5.83],[277,5.67],[307,5.63],[320,5.66],[301,5.37],[119,5.45],[-300,5.23],[38,5.07],[263,5.2],[-259,4.79],[-183,4.37],[77,4.33],[216,4.37],[271,4.49],[273,4.12],[-253,4.13],[-324,3.98],[-174,4.02],[-158,3.97],[-250,3.85],[306,3.59],[312,3.51],[-234,3.36],[126,3.29],[56,3.25],[-56,3.12],[-376,2.96],[316,2.78],[29,2.47],
[-242,1.87],[-223,1.92],[-98,1.68],[-403,1.53],[-129,1.47],[319,1.43],[402,1.15],[131,0.94],[32,0.87],[-357,0.77],[21,0.53],[-98,0.51],[-363,0.44],[-382,0.38],[-286,0.38],[144,0.38],[106,0.26],[-189,0.26],[-124,0.22],[139,0.2],[-334,0.17],[-61,0.2],[-75,0.14],[27,0.16],[281,0.12],[310,0.14],[202,0.08],[-387,0.03],[-46,0.01],[-15,0.01],[-1,0],[56,0]
];
const hGenes = ['CCND1', 'DDX5', 'GATA3', 'ESR1'];
const hGeneJitter = [-44, -1, 132, 280];
const hGeneExpr = [13.67, 13.64, 13.84, 13.89];
const hBoxStats = [2.79, 7.55, 9.52, 10.75, 15.44];
const hYTicks = [0, 5, 10, 15];

// Shared expression-panel grid values
const exprGridJitter = [-556, -417, -278, -139, 0, 139, 278, 417, 556];
const exprGridValues = [0, 2.5, 5, 7.5, 10, 12.5, 15];

// ---------- Helpers ----------
const svgRoot = document.getElementById('fig');
const NS = svgRoot.namespaceURI;
function mk(parent, tag, attrs, txt) {
  const e = document.createElementNS(NS, tag);
  for (const k in attrs) e.setAttribute(k, attrs[k]);
  if (txt !== undefined) e.textContent = txt;
  parent.appendChild(e);
  return e;
}
function heatColor(v) {
  const c = Math.max(-4, Math.min(4, v));
  let i = 0;
  while (i < heatStops.length - 2 && c > heatStops[i + 1]) i++;
  const t = (c - heatStops[i]) / (heatStops[i + 1] - heatStops[i]);
  const a = heatStopColors[i], b = heatStopColors[i + 1];
  return 'rgb(' + a.map((x, k) => Math.round(x + (b[k] - x) * t)).join(',') + ')';
}

// ---------- Panel B ----------
(function () {
  const g = document.getElementById('chartB');
  const yScale = v => 896 - v * 8.73;
  const xBand = i => 3032 + i * 165.3;
  const bandW = 128;
  bValues.forEach((v, i) => {
    const r = mk(g, 'rect', { x: xBand(i), y: yScale(v), width: bandW, height: 896 - yScale(v), fill: '#5680a9' });
    
    
    const t = mk(g, 'line', { x1: xBand(i) + bandW / 2, x2: xBand(i) + bandW / 2, y1: 896, y2: 910, stroke: '#666', 'stroke-width': 3 });
    
    
  });
  bTicks.forEach(v => {
    const l = mk(g, 'line', { x1: 3005, x2: 3014, y1: yScale(v), y2: yScale(v), stroke: '#555', 'stroke-width': 3 });
    
    
    const t = mk(g, 'text', { x: 3003, y: yScale(v) + 19, 'text-anchor': 'end', 'font-size': 52 }, String(v));
    
    
  });
})();

// ---------- Heatmaps ----------
function drawHeat(id, rows, x0, y0, w, h) {
  const g = document.getElementById(id);
  const rowH = h / rows.length;
  rows.forEach((row, r) => {
    const colW = w / row.length;
    row.forEach((v, c) => {
      const cell = mk(g, 'rect', { x: x0 + c * colW, y: y0 + r * rowH, width: colW + 0.6, height: rowH + 0.6, fill: heatColor(v / 10), 'shape-rendering': 'crispEdges' });
      
      
    });
  });
}
drawHeat('heatC', heatCRows, 67, 1519, 568, 734);
drawHeat('heatF', heatFRows, 64, 2689, 569, 739);

// ---------- Pathway scatter ----------
function drawPathway(id, names, xs, ys, colors, xTicks, yTicks, xScale, yScale, ax) {
  const g = document.getElementById(id);
  const yl = mk(g, 'line', { x1: ax.left, x2: ax.left, y1: ax.top, y2: ax.bottom, stroke: '#555', 'stroke-width': 3 });
  
  
  const xl = mk(g, 'line', { x1: ax.left, x2: ax.right, y1: ax.bottom, y2: ax.bottom, stroke: '#555', 'stroke-width': 3 });
  
  
  xTicks.forEach(v => {
    const px = xScale(v);
    const t = mk(g, 'line', { x1: px, x2: px, y1: ax.bottom, y2: ax.bottom + 10, stroke: '#555', 'stroke-width': 3 });
    
    
    const l = mk(g, 'text', { x: px + 2, y: ax.xLabelY, 'text-anchor': 'middle', 'font-size': 50, textLength: 60, lengthAdjust: 'spacingAndGlyphs' }, String(v));
    
    
  });
  yTicks.forEach(v => {
    const py = yScale(v);
    const t = mk(g, 'line', { x1: ax.left - 9, x2: ax.left, y1: py, y2: py, stroke: '#555', 'stroke-width': 3 });
    
    
    const l = mk(g, 'text', { x: ax.left - 22, y: py + 18, 'text-anchor': 'end', 'font-size': 50, textLength: 65, lengthAdjust: 'spacingAndGlyphs' }, String(v));
    
    
  });
  xs.forEach((v, i) => {
    const c = mk(g, 'circle', { cx: xScale(v), cy: yScale(ys[i]), r: 12.5, fill: colors[i] });
    
    
  });
}
const dXScale = v => v <= 30 ? 1394 + (v - 15) * 32.67 : 1884 + (v - 30) * 16.2;
const dYScale = v => 2168 - (v - 15) * 19.57;
drawPathway('chartD', dPathways, dLogP, dPartners, dColors, dXTicks, dYTicks, dXScale, dYScale,
  { left: 1360, right: 2114, top: 1488, bottom: 2241, xLabelY: 2301 });
const gXScale = v => 1439.4 + (v - 15) * 28.71;
const gYScale = v => 3413 - (v - 15) * 20.1;
drawPathway('chartG', gPathways, gLogP, gPartners, gColors, gXTicks, gYTicks, gXScale, gYScale,
  { left: 1406, right: 2160, top: 2674, bottom: 3428, xLabelY: 3490 });

// ---------- Expression scatter with box ----------
function drawExpr(id, pts, stats, genes, gJit, gExpr, yTicks, cfg, anno) {
  const g = document.getElementById(id);
  const xS = j => cfg.cx + j * 0.6615;
  const yS = v => cfg.y0 - v * cfg.unit;
  exprGridJitter.forEach(j => {
    const l = mk(g, 'line', { x1: xS(j), x2: xS(j), y1: cfg.top, y2: cfg.bottom, stroke: '#eeeeee', 'stroke-width': 3 });
    
    
  });
  exprGridValues.forEach(v => {
    const l = mk(g, 'line', { x1: cfg.left, x2: cfg.right, y1: yS(v), y2: yS(v), stroke: '#eeeeee', 'stroke-width': 3 });
    
    
  });
  const w1 = mk(g, 'line', { x1: cfg.cx, x2: cfg.cx, y1: yS(stats[4]), y2: yS(stats[3]), stroke: '#555', 'stroke-width': 3 });
  
  
  const w2 = mk(g, 'line', { x1: cfg.cx, x2: cfg.cx, y1: yS(stats[1]), y2: yS(stats[0]), stroke: '#555', 'stroke-width': 3 });
  
  
  const box = mk(g, 'rect', { x: cfg.boxL, y: yS(stats[3]), width: cfg.boxR - cfg.boxL, height: yS(stats[1]) - yS(stats[3]), fill: 'none', stroke: '#555', 'stroke-width': 3 });
  
  
  const med = mk(g, 'line', { x1: cfg.boxL, x2: cfg.boxR, y1: yS(stats[2]), y2: yS(stats[2]), stroke: '#333', 'stroke-width': 4 });
  
  
  pts.forEach(p => {
    const c = mk(g, 'circle', { cx: xS(p[0]), cy: yS(p[1]), r: 4, fill: '#1010ff' });
    
    
  });
  const fr = mk(g, 'rect', { x: cfg.left, y: cfg.top, width: cfg.right - cfg.left, height: cfg.bottom - cfg.top, fill: 'none', stroke: '#555', 'stroke-width': 3 });
  
  
  yTicks.forEach(v => {
    const t = mk(g, 'line', { x1: cfg.left - 8, x2: cfg.left, y1: yS(v), y2: yS(v), stroke: '#555', 'stroke-width': 3 });
    
    
    const l = mk(g, 'text', { x: cfg.left - 11, y: yS(v) + cfg.tickDy, 'text-anchor': 'end', 'font-size': 48 }, String(v));
    
    
  });
  genes.forEach((name, i) => {
    const a = anno[i];
    const px = xS(gJit[i]), py = yS(gExpr[i]);
    const dx = a.lx - px, dy = a.ly - py, d = Math.hypot(dx, dy), ux = dx / d, uy = dy / d;
    const ln = mk(g, 'line', { x1: a.lx, y1: a.ly, x2: px + ux * 24, y2: py + uy * 24, stroke: '#5a0e0e', 'stroke-width': 6 });
    
    
    const hd = mk(g, 'polygon', { points: [px + ux * 12, py + uy * 12, px + ux * 26 - uy * 7, py + uy * 26 + ux * 7, px + ux * 26 + uy * 7, py + uy * 26 - ux * 7].join(' '), fill: '#5a0e0e' });
    
    
    const c = mk(g, 'circle', { cx: px, cy: py, r: 7.5, fill: '#5a0e0e' });
    
    
    const t = mk(g, 'text', { x: a.tx, y: a.ty, 'font-size': 60, style: 'fill:#5c1515', textLength: a.tw, lengthAdjust: 'spacingAndGlyphs' }, name);
    
    
  });
}
drawExpr('chartE', ePoints, eBoxStats, eGenes, eGeneJitter, eGeneExpr, eYTicks,
  { cx: 3392, y0: 2257, unit: 56.73, left: 3014, right: 3773, top: 1362, bottom: 2299, boxL: 3049, boxR: 3737, tickDy: 15 },
  [{ lx: 3179, ly: 1425, tx: 3056, ty: 1416, tw: 204 },
   { lx: 3107, ly: 1515, tx: 3016, ty: 1568, tw: 174 },
   { lx: 3426, ly: 1443, tx: 3303, ty: 1435, tw: 221 },
   { lx: 3709, ly: 1450, tx: 3582, ty: 1435, tw: 158 },
   { lx: 3606, ly: 1575, tx: 3500, ty: 1625, tw: 248 }]);
drawExpr('chartH', hPoints, hBoxStats, hGenes, hGeneJitter, hGeneExpr, hYTicks,
  { cx: 3394.6, y0: 3439, unit: 55.9, left: 3011, right: 3776, top: 2532, bottom: 3481, boxL: 3047, boxR: 3740, tickDy: 14 },
  [{ lx: 3309, ly: 2641, tx: 3156, ty: 2627, tw: 223 },
   { lx: 3460, ly: 2695, tx: 3398, ty: 2749, tw: 179 },
   { lx: 3482.5, ly: 2604, tx: 3417, ty: 2599, tw: 208 },
   { lx: 3642, ly: 2677, tx: 3607, ty: 2732, tw: 161 }]);
</script>
</body>
</html>
